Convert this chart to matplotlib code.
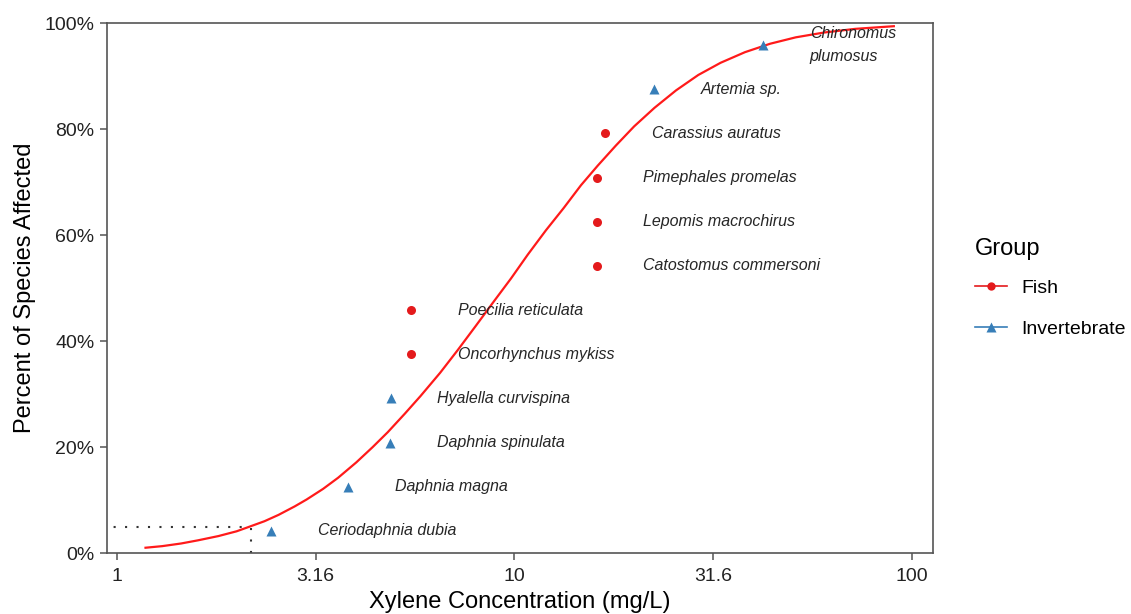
import matplotlib
matplotlib.use('Agg')
import matplotlib.pyplot as plt
from matplotlib.lines import Line2D
from matplotlib.ticker import FixedLocator, FuncFormatter, NullLocator

plt.rcParams['font.family'] = ['Liberation Sans', 'DejaVu Sans']

#-----------------------------------------------------------------------------#
#   data                                                 #
#-----------------------------------------------------------------------------#
species = ['Ceriodaphnia dubia', 'Daphnia magna', 'Daphnia spinulata',
           'Hyalella curvispina', 'Oncorhynchus mykiss', 'Poecilia reticulata',
           'Catostomus commersoni', 'Lepomis macrochirus', 'Pimephales promelas',
           'Carassius auratus', 'Artemia sp.', 'Chironomus\nplumosus']
group = ['Invertebrate', 'Invertebrate', 'Invertebrate', 'Invertebrate',
         'Fish', 'Fish', 'Fish', 'Fish', 'Fish', 'Fish',
         'Invertebrate', 'Invertebrate']
conc = [2.44, 3.81, 4.86, 4.88, 5.49, 5.49, 16.1, 16.1, 16.1, 16.9, 22.4, 42.2]
percent = [0.0417, 0.125, 0.208, 0.292, 0.375, 0.458,
           0.542, 0.625, 0.708, 0.792, 0.875, 0.958]

curve_x = [1.18, 1.3, 1.45, 1.6, 1.8, 2.0, 2.16, 2.35, 2.55, 2.8, 3.0, 3.3,
           3.6, 4.0, 4.4, 4.8, 5.3, 5.8, 6.5, 7.2, 8.0, 8.9, 9.8, 10.8, 12.0,
           13.3, 14.7, 16.2, 18.0, 20.0, 22.5, 25.5, 29.0, 33.0, 38.0, 44.0,
           51.0, 60.0, 72.0, 90.0]
curve_y = [0.010, 0.013, 0.018, 0.024, 0.032, 0.041, 0.050, 0.060, 0.072,
           0.088, 0.101, 0.121, 0.142, 0.171, 0.200, 0.228, 0.263, 0.296,
           0.340, 0.383, 0.429, 0.476, 0.518, 0.563, 0.609, 0.651, 0.694,
           0.731, 0.769, 0.805, 0.840, 0.873, 0.902, 0.925, 0.945, 0.961,
           0.973, 0.982, 0.989, 0.994]

hc5 = 2.17
hc_level = 0.05

x_ticks = [1, 3.16, 10, 31.6, 100]
y_ticks = [0, 0.2, 0.4, 0.6, 0.8, 1.0]

colours = {'Fish': '#E41A1C', 'Invertebrate': '#377EB8'}
markers = {'Fish': 'o', 'Invertebrate': '^'}

#-----------------------------------------------------------------------------#
#   plot                                                                      #
#-----------------------------------------------------------------------------#
fig = plt.figure(figsize=(11.31, 6.14), dpi=100)
ax = fig.add_axes([0.0946, 0.0993, 0.7303, 0.8632])
ax.set_xscale('log')

ax.plot(curve_x, curve_y, color='#FF1A1A', lw=1.6, zorder=2,
        solid_joinstyle='round')

ax.plot([0.5, hc5], [hc_level, hc_level], color='#333333', lw=1.5,
        ls=(0, (1, 4.5)), zorder=1)
ax.plot([hc5, hc5], [0, hc_level], color='#333333', lw=1.5,
        ls=(0, (1, 4.5)), zorder=1)

for g in ['Fish', 'Invertebrate']:
    xs = [c for c, gg in zip(conc, group) if gg == g]
    ys = [p for p, gg in zip(percent, group) if gg == g]
    ax.plot(xs, ys, ls='none', marker=markers[g], color=colours[g],
            ms=6.5 if g == 'Fish' else 7.5, mec='none', zorder=3)

for s, c, p in zip(species, conc, percent):
    ax.text(c * 1.31, p, s, fontsize=11.5, style='italic', color='#262626',
            ha='left', va='center', linespacing=1.65, zorder=4)

ax.set_xlim(0.944, 112.9)
ax.set_ylim(0, 1)
ax.xaxis.set_major_locator(FixedLocator(x_ticks))
ax.xaxis.set_minor_locator(NullLocator())
ax.xaxis.set_major_formatter(FuncFormatter(lambda v, pos: '%g' % v))
ax.yaxis.set_major_locator(FixedLocator(y_ticks))
ax.yaxis.set_major_formatter(FuncFormatter(lambda v, pos: '%d%%' % round(v * 100)))

for sp in ax.spines.values():
    sp.set_color('#555555')
    sp.set_linewidth(1.2)
ax.tick_params(direction='out', length=5, width=1.1, color='#555555',
               labelsize=14, labelcolor='#222222')
ax.tick_params(axis='x', pad=6)
ax.tick_params(axis='y', pad=4)

ax.set_xlabel('Xylene Concentration (mg/L)', fontsize=17, labelpad=4)
ax.set_ylabel('Percent of Species Affected', fontsize=17, labelpad=6)

handles = [Line2D([], [], color=colours[g], marker=markers[g], lw=1.2,
                  ms=6 if g == 'Fish' else 6.5, mec='none')
           for g in ['Fish', 'Invertebrate']]
leg = ax.legend(handles, ['Fish', 'Invertebrate'], title='Group',
                loc='center left', bbox_to_anchor=(1.037, 0.50),
                frameon=False, fontsize=14, title_fontsize=17,
                handlelength=1.65, handletextpad=0.7, labelspacing=1.2,
                borderaxespad=0.2)
leg._legend_box.align = 'left'
leg._legend_box.sep = 14

fig.savefig('out.png', dpi=100)
